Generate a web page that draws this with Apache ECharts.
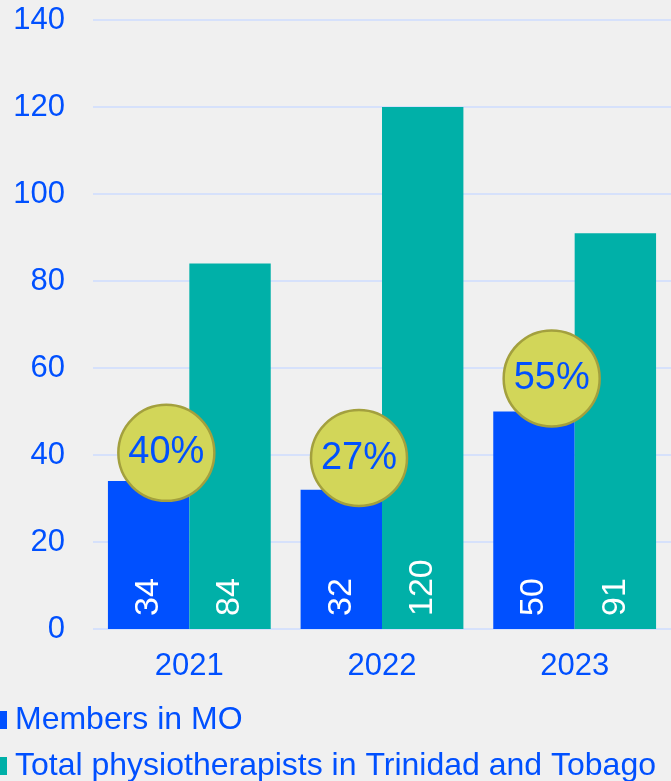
<!DOCTYPE html>
<html>
<head>
<meta charset="utf-8">
<script src="https://cdn.jsdelivr.net/npm/echarts@6/dist/echarts.min.js"></script>
<style>
  html, body { margin: 0; padding: 0; background: #f0f0f0; }
  #main { width: 671px; height: 781px; }
</style>
</head>
<body>
<div id="main"></div>
<script>
// chart data
const years = ['2021', '2022', '2023']
const membersInMO = [34, 32, 50]
const totalPhysios = [84, 120, 91]
const shareLabels = ['40%', '27%', '55%']
// height where each percentage bubble sits
const bubbleLevel = [40.5, 39.3, 57.6]
const seriesNames = ['Members in MO', 'Total physiotherapists in Trinidad and Tobago']

const BLUE = '#0050ff'
const TEAL = '#00b0a8'
const FONT = '"Liberation Sans", Arial, sans-serif'

const myChart = echarts.init(document.getElementById('main'))

// one legend box per row so they stack like the original
const legendRow = (name, top) => ({
  left: 0,
  top: top,
  padding: 0,
  itemWidth: 7,
  itemHeight: 18,
  itemGap: 0,
  icon: 'rect',
  textStyle: {
    color: BLUE,
    fontSize: 32,
    fontFamily: FONT,
    padding: [0, 0, 0, 3],
  },
  data: [name],
})

const barLabel = {
  show: true,
  position: 'insideBottom',
  rotate: 90,
  align: 'left',
  verticalAlign: 'middle',
  distance: 13,
  color: '#fff',
  fontSize: 34,
  fontFamily: FONT,
}

const option = {
  backgroundColor: '#f0f0f0',
  animation: false,
  textStyle: { fontFamily: FONT },
  grid: {
    left: 93,
    top: 20,
    width: 580,
    height: 609,
  },
  legend: [
    legendRow(seriesNames[0], 704),
    legendRow(seriesNames[1], 750),
  ],
  xAxis: {
    type: 'category',
    data: years,
    axisLine: { show: false },
    axisTick: { show: false },
    axisLabel: { color: BLUE, fontSize: 31, margin: 22, fontFamily: FONT },
  },
  yAxis: {
    type: 'value',
    min: 0,
    max: 140,
    interval: 20,
    axisLabel: { color: BLUE, fontSize: 31, margin: 28, fontFamily: FONT },
    splitLine: { lineStyle: { color: '#d6e1fb', width: 2 } },
  },
  series: [
    {
      name: seriesNames[0],
      type: 'bar',
      barGap: '0%',
      barCategoryGap: '15.5%',
      itemStyle: { color: BLUE },
      label: barLabel,
      data: membersInMO,
    },
    {
      name: seriesNames[1],
      type: 'bar',
      itemStyle: { color: TEAL },
      label: barLabel,
      data: totalPhysios,
    },
    {
      name: 'share',
      type: 'scatter',
      symbol: 'circle',
      symbolSize: 96,
      symbolOffset: [-23, 0],
      z: 5,
      itemStyle: {
        color: '#d2d659',
        borderColor: '#a3a03e',
        borderWidth: 2.5,
        opacity: 1,
      },
      label: {
        show: true,
        position: 'inside',
        color: BLUE,
        fontSize: 38,
        fontFamily: FONT,
        formatter: (p) => shareLabels[p.dataIndex],
      },
      emphasis: { disabled: true },
      data: bubbleLevel,
    },
  ],
}

option && myChart.setOption(option)
</script>
</body>
</html>
